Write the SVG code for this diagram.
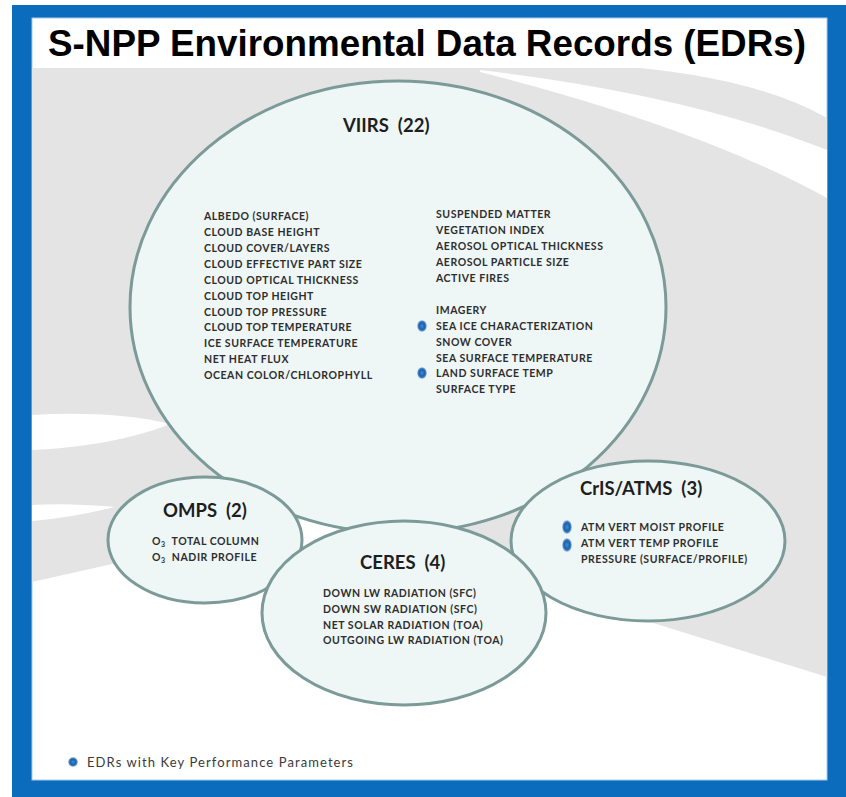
<svg xmlns="http://www.w3.org/2000/svg" width="846" height="797" viewBox="0 0 846 797">
<defs>
<style>
.bubble{fill:#eef6f6;stroke:#7b9a98;stroke-width:3}
.head{font-family:Lato,"Open Sans","Liberation Sans",sans-serif;font-weight:700;font-size:18.5px;fill:#1e1e1e}
.item{font-family:Lato,"Open Sans","Liberation Sans",sans-serif;font-weight:700;font-size:10.5px;letter-spacing:0.55px;fill:#2e2e2e}
.title{font-family:"Liberation Sans",Arial,sans-serif;font-weight:700;font-size:37px;fill:#000}
.legend{font-family:Lato,"Open Sans","Liberation Sans",sans-serif;font-size:13px;fill:#3a3a3a}
</style>
<radialGradient id="kpp" cx="50%" cy="50%" r="50%">
<stop offset="0" stop-color="#3f8ed6"/>
<stop offset="0.55" stop-color="#1a62ad"/>
<stop offset="0.8" stop-color="#4f88c0"/>
<stop offset="1" stop-color="#a9c8e4" stop-opacity="0.6"/>
</radialGradient>
</defs>
<g id="background">
<rect x="0" y="0" width="846" height="797" fill="#ffffff"/>
<rect x="12" y="5" width="834" height="792" fill="#0b6bbd"/>
<rect x="32" y="18" width="795" height="762" fill="#ffffff" stroke="#a8cbea" stroke-width="1"/>
<path d="M32,68 L640,68 Q760,80 827,118 L827,677 Q740,650 650,622 L560,590 L330,512 Q200,545 32,582 Z" fill="#e4e4e4"/>
<path d="M480,70 Q690,95 827,150 L827,198 Q700,128 480,72 Z" fill="#ffffff"/>
<path d="M32,415 C80,412 130,414 170,424 C130,440 80,448 32,450 Z" fill="#ffffff"/>
<path d="M32,505 Q70,503 115,507 Q70,518 32,521 Z" fill="#ffffff"/>
</g>
<text class="title" x="48" y="56" textLength="758" lengthAdjust="spacingAndGlyphs">S-NPP Environmental Data Records (EDRs)</text>
<g id="connectors"></g>
<g id="viirs">
<ellipse class="bubble" cx="398" cy="307" rx="268" ry="226"/>
<text class="head" x="343" y="132">VIIRS&#160; (22)</text>
<text class="item" x="204" y="220">ALBEDO (SURFACE)</text>
<text class="item" x="204" y="236">CLOUD BASE HEIGHT</text>
<text class="item" x="204" y="252">CLOUD COVER/LAYERS</text>
<text class="item" x="204" y="268">CLOUD EFFECTIVE PART SIZE</text>
<text class="item" x="204" y="283.5">CLOUD OPTICAL THICKNESS</text>
<text class="item" x="204" y="299.5">CLOUD TOP HEIGHT</text>
<text class="item" x="204" y="315.5">CLOUD TOP PRESSURE</text>
<text class="item" x="204" y="331">CLOUD TOP TEMPERATURE</text>
<text class="item" x="204" y="347">ICE SURFACE TEMPERATURE</text>
<text class="item" x="204" y="363">NET HEAT FLUX</text>
<text class="item" x="204" y="379">OCEAN COLOR/CHLOROPHYLL</text>
<text class="item" x="436" y="218">SUSPENDED MATTER</text>
<text class="item" x="436" y="234">VEGETATION INDEX</text>
<text class="item" x="436" y="250">AEROSOL OPTICAL THICKNESS</text>
<text class="item" x="436" y="266">AEROSOL PARTICLE SIZE</text>
<text class="item" x="436" y="282">ACTIVE FIRES</text>
<text class="item" x="436" y="314">IMAGERY</text>
<text class="item" x="436" y="330">SEA ICE CHARACTERIZATION</text>
<text class="item" x="436" y="346">SNOW COVER</text>
<text class="item" x="436" y="361.5">SEA SURFACE TEMPERATURE</text>
<text class="item" x="436" y="377">LAND SURFACE TEMP</text>
<text class="item" x="436" y="393">SURFACE TYPE</text>
<ellipse cx="422" cy="326" rx="5" ry="6" fill="url(#kpp)"/>
<ellipse cx="422" cy="373" rx="5" ry="6" fill="url(#kpp)"/>
</g>
<g id="omps">
<ellipse class="bubble" cx="205" cy="540" rx="97" ry="63"/>
<text class="head" x="163" y="517">OMPS&#160; (2)</text>
<text class="item" x="152" y="545">O<tspan font-size="7" dy="2">3</tspan><tspan dy="-2">&#160; TOTAL COLUMN</tspan></text>
<text class="item" x="152" y="561">O<tspan font-size="7" dy="2">3</tspan><tspan dy="-2">&#160; NADIR PROFILE</tspan></text>
</g>
<g id="cris-atms">
<ellipse class="bubble" cx="648" cy="541" rx="137" ry="80"/>
<text class="head" x="580" y="495">CrIS/ATMS&#160; (3)</text>
<text class="item" x="581" y="531">ATM VERT MOIST PROFILE</text>
<text class="item" x="581" y="547">ATM VERT TEMP PROFILE</text>
<text class="item" x="581" y="563">PRESSURE (SURFACE/PROFILE)</text>
<ellipse cx="567" cy="527" rx="5" ry="7" fill="url(#kpp)"/>
<ellipse cx="567" cy="545" rx="5" ry="7" fill="url(#kpp)"/>
</g>
<g id="ceres">
<ellipse class="bubble" cx="404" cy="613" rx="142" ry="92"/>
<text class="head" x="360" y="569">CERES&#160; (4)</text>
<text class="item" x="323" y="597">DOWN LW RADIATION (SFC)</text>
<text class="item" x="323" y="613">DOWN SW RADIATION (SFC)</text>
<text class="item" x="323" y="629">NET SOLAR RADIATION (TOA)</text>
<text class="item" x="323" y="644">OUTGOING LW RADIATION (TOA)</text>
</g>
<g id="legend">
<ellipse cx="73" cy="762" rx="5" ry="5" fill="url(#kpp)"/>
<text class="legend" x="87" y="767" textLength="266" lengthAdjust="spacing">EDRs with Key Performance Parameters</text>
</g>
</svg>
